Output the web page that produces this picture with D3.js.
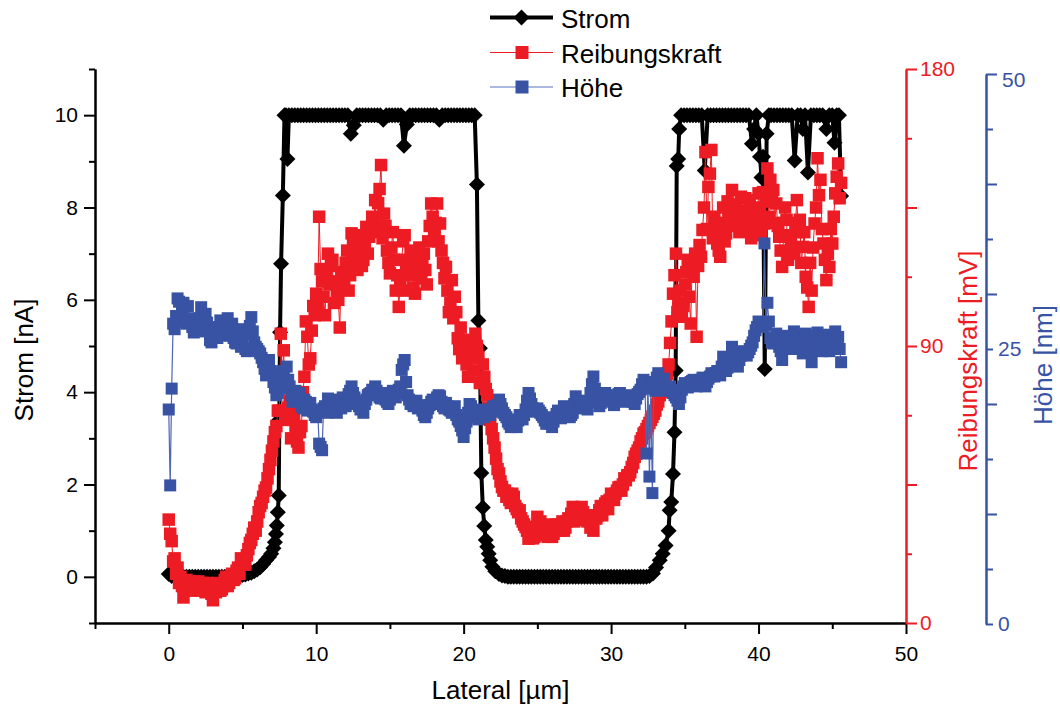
<!DOCTYPE html>
<html><head><meta charset="utf-8">
<script src="https://cdn.jsdelivr.net/npm/d3@7"></script>
<style>
html,body{margin:0;padding:0;background:#fff;}
svg{display:block;font-family:"Liberation Sans",Arial,Helvetica,sans-serif;}
</style></head><body>
<svg id="chart" width="1060" height="711"></svg>
<script>
// ---------------- DATA ----------------
// Lateral positions [µm] (main grid) shared by Reibungskraft and Höhe
const lateral = [
0,0.1,0.2,0.4,0.6,0.8,1,1.2,1.4,1.6,1.8,
2,2.2,2.4,2.6,2.8,3,3.2,3.4,3.6,3.8,
4,4.2,4.4,4.6,4.8,5,5.2,5.4,5.6,5.8,
6,6.2,6.4,6.6,6.8,7,7.2,7.4,7.6,7.8,
8,8.2,8.4,8.6,8.8,9,9.2,9.4,9.6,9.8,
10,10.2,10.4,10.6,10.8,11,11.2,11.4,11.6,11.8,
12,12.2,12.4,12.6,12.8,13,13.2,13.4,13.6,13.8,
14,14.2,14.4,14.6,14.8,15,15.2,15.4,15.6,15.8,
16,16.2,16.4,16.6,16.8,17,17.2,17.4,17.6,17.8,
18,18.2,18.4,18.6,18.8,19,19.2,19.4,19.6,19.8,
20,20.2,20.4,20.6,20.8,21,21.2,21.4,21.6,21.8,
22,22.2,22.4,22.6,22.8,23,23.2,23.4,23.6,23.8,
24,24.2,24.4,24.6,24.8,25,25.2,25.4,25.6,25.8,
26,26.2,26.4,26.6,26.8,27,27.2,27.4,27.6,27.8,
28,28.2,28.4,28.6,28.8,29,29.2,29.4,29.6,29.8,
30,30.2,30.4,30.6,30.8,31,31.2,31.4,31.6,31.8,
32,32.2,32.4,32.6,32.8,33,33.2,33.4,33.6,33.8,
34,34.2,34.4,34.6,34.8,35,35.2,35.4,35.6,35.8,
36,36.2,36.4,36.6,36.8,37,37.2,37.4,37.6,37.8,
38,38.2,38.4,38.6,38.8,39,39.2,39.4,39.6,39.8,
40,40.2,40.4,40.6,40.8,41,41.2,41.4,41.6,41.8,
42,42.2,42.4,42.6,42.8,43,43.2,43.4,43.6,43.8,
44,44.2,44.4,44.6,44.8,45,45.2,45.4,45.6
];
// Intermediate lateral positions [µm]
const lateralMid = [
0.3,0.5,0.7,0.9,1.1,1.3,1.5,1.7,1.9,
2.1,2.3,2.5,2.7,2.9,3.1,3.3,3.5,3.7,3.9,
4.1,4.3,4.5,4.7,4.9,5.1,5.3,5.5,5.7,5.9,
6.1,6.3,6.5,6.7,6.9,7.1,7.3,7.5,7.7,7.9,
8.1,8.3,8.5,8.7,8.9,9.1,9.3,9.5,9.7,9.9,
10.1,10.3,10.5,10.7,10.9,11.1,11.3,11.5,11.7,11.9,
12.1,12.3,12.5,12.7,12.9,13.1,13.3,13.5,13.7,13.9,
14.1,14.3,14.5,14.7,14.9,15.1,15.3,15.5,15.7,15.9,
16.1,16.3,16.5,16.7,16.9,17.1,17.3,17.5,17.7,17.9,
18.1,18.3,18.5,18.7,18.9,19.1,19.3,19.5,19.7,19.9,
20.1,20.3,20.5,20.7,20.9,21.1,21.3,21.5,21.7,21.9,
22.1,22.3,22.5,22.7,22.9,23.1,23.3,23.5,23.7,23.9,
24.1,24.3,24.5,24.7,24.9,25.1,25.3,25.5,25.7,25.9,
26.1,26.3,26.5,26.7,26.9,27.1,27.3,27.5,27.7,27.9,
28.1,28.3,28.5,28.7,28.9,29.1,29.3,29.5,29.7,29.9,
30.1,30.3,30.5,30.7,30.9,31.1,31.3,31.5,31.7,31.9,
32.1,32.3,32.5,32.7,32.9,33.1,33.3,33.5,33.7,33.9,
34.1,34.3,34.5,34.7,34.9,35.1,35.3,35.5,35.7,35.9,
36.1,36.3,36.5,36.7,36.9,37.1,37.3,37.5,37.7,37.9,
38.1,38.3,38.5,38.7,38.9,39.1,39.3,39.5,39.7,39.9,
40.1,40.3,40.5,40.7,40.9,41.1,41.3,41.5,41.7,41.9,
42.1,42.3,42.5,42.7,42.9,43.1,43.3,43.5,43.7,43.9,
44.1,44.3,44.5,44.7,44.9,45.1,45.3,45.5
];
// Reibungskraft [mV] at lateral
const reibungskraft = [
33.6,29,26.6,21,18,15,8.3,14,12.5,13,11.5,
13.5,10.5,12,13,11,7.4,10,12.5,11,14,
12,15,14,17,16,20,19,24,27,31,
33,38,41,44,50,56,62,69,94,88.6,
67,72,66,63,57,64,80,93,86,103,
107,132,111,100,120,116,104,108,96,112.5,
117,108,126.6,119,114.7,122,118,128.7,125.5,132,
137.4,136.4,148.8,133,121,113.6,127,108,102.7,118,
126,108,121,109,114.7,122,117,114.7,124,136.3,
126.6,136.3,129.8,117,115.7,101,111.4,106,92.5,96,
88,84,90.8,86,94,86.5,78,80,74,66,
60,53.4,48.6,44.2,43,42,39,41,37,36.6,
33,31.2,27.4,30,28,34.5,33,31,29,32,
28,30,31.2,32,30,33,33.4,37.7,36,34,
37.7,34.5,33,31,30,34,36.6,35,38.8,37,
42,40,43,44.2,45,46.4,48,50.7,54,56,
59,61.5,63,65,67,69,72,75,79,81,
91,107,120,104,99.5,110,118,97.3,112.5,93,
122.8,127.7,153,141.7,153.7,132,123.3,119,135,126.6,
132,140.7,134,130,138.5,133,127.7,137.4,131,132,
139.6,126,129.8,147.7,144,140.7,136.3,125.5,115.7,135,
118,124.4,120,137.4,131,122.2,112.5,102.7,108,129.8,
151,144,123.3,111.4,115.7,123.3,139.6,149.3,143
];
// Reibungskraft [mV] at lateralMid
const reibungskraftMid = [
20,16,13,12,11,12,10.5,13.5,12,
11,13,10,12.5,9.5,11.5,13,10.5,12,15,
13,16,14.5,18,21,19,22,26,29,30,
36,39,43,47,53,59,64,69,80,66,
70,60,68,59,62,75,98,84,95,100,
104,115,106,112,110,118,111,105,114,109,
121,113,123,117,126,116,123,120,127,130,
128,141,125,129,117,122,118,113,110,124,
117,113,119,107,118,112,120,110,129,132,
130,124,121,112,108,104,99,101,89,86,
92,80,88,82,90,78,84,76,70,63,
57,50,46,43,41,40,42,38,36,34,
32,30,29,27.5,31,30,28.5,30.5,28,30,
29,32,30,33,31,34,35.5,33,35,36.5,
36,33.5,35,32,34,35,38,37,39.5,40,
41,42,44,43,47,48,49,52,55,57,
60,62,64,66,68,71,74,77,80,84,
98,113,101,108,103,114,106,117,120,116,
119,135,128,146,125,128,121,130,124,137,
129,136,131,127,134,138,131,125,135,128,
134,140,137,132,137,130,129,121,126,131,
126,121,130,127,117,127,109,117,122,135,
139,128,118,120,128,132,145,138
];
// Höhe [nm] at lateral
const hoehe = [
19.5,12.6,21.4,26.8,29.6,27.5,29.2,27.3,27.8,27.0,26.8,
27.3,28.8,27.0,27.4,25.8,26.5,26.3,26.9,27.4,26.3,
27.8,26.7,26.0,25.5,26.2,25.8,25.0,26.4,27.9,25.6,
25.0,24.6,23.8,22.6,24.0,22.8,21.5,21.0,21.8,22.6,
23.4,21.6,20.2,21.2,20.7,19.8,20.4,19.4,20.1,19.3,
18.8,16.4,15.8,19.8,20.5,19.6,20.3,19.2,20.0,20.6,
19.8,20.9,21.6,20.6,20.2,19.5,19.2,20.4,20.9,21.3,
21.6,20.8,20.5,21.0,20.2,20.4,21.2,20.6,21.3,23.1,
24.0,20.8,20.0,19.8,20.3,19.9,19.4,18.8,19.6,20.2,
20.0,20.6,20.7,19.8,20.1,19.5,19.2,19.8,18.6,18.0,
17.0,18.4,20.0,19.4,19.0,18.6,19.5,18.8,19.4,19.0,
19.8,19.3,20.4,19.6,19.0,18.4,17.9,18.6,17.9,19.0,
18.6,19.5,21.0,20.0,19.3,19.6,19.2,18.8,18.2,18.6,
17.9,18.8,19.4,18.7,19.8,19.3,18.8,19.2,20.7,20.0,
19.6,20.2,19.5,21.0,22.5,20.6,19.8,20.4,21.0,20.3,
20.6,19.9,20.8,21.0,20.5,20.2,20.8,20.4,20.0,20.9,
21.3,22.2,15.5,13.4,11.9,21.2,22.8,21.8,22.3,21.2,
21.6,21.0,20.6,20.0,21.3,21.9,21.5,22.0,22.2,21.6,
22.0,22.4,21.6,22.3,22.8,22.5,23.0,22.6,24.3,23.0,
23.6,25.2,24.0,23.4,24.4,24.8,24.4,25.0,25.6,26.7,
27.5,27.3,34.6,29.2,26.0,25.5,26.4,25.2,24.0,25.8,
26.1,25.0,26.6,25.4,26.2,24.6,26.4,25.6,23.8,25.9,
26.5,25.2,25.5,26.3,24.8,25.8,26.6,26.1,23.8
];
// Höhe [nm] at lateralMid
const hoeheMid = [
27.3,28.0,29.3,28.4,27.6,28.9,27.4,26.5,27.6,
27.8,26.6,28.2,26.9,25.6,27.0,26.0,27.6,26.8,27.0,
26.2,27.3,25.6,26.8,25.2,26.4,24.8,27.1,26.6,25.2,
24.8,24.2,23.2,23.6,23.0,22.0,20.8,21.4,23.0,22.2,
22.2,20.8,20.6,20.3,21.0,19.6,20.2,19.9,19.5,19.0,
19.4,16.1,19.6,19.2,20.1,19.8,19.6,20.4,19.6,20.2,
20.4,21.2,21.0,20.0,19.8,19.6,20.0,20.8,21.0,21.0,
21.2,20.6,20.9,20.4,20.0,20.8,20.9,21.0,21.6,23.6,
22.0,20.4,20.2,20.0,19.6,19.8,19.0,19.2,19.9,20.4,
20.3,20.8,20.2,19.6,19.8,19.4,19.6,19.0,18.4,17.6,
17.8,19.2,19.8,19.0,18.8,19.1,19.2,19.0,19.2,19.5,
19.6,19.9,20.0,19.2,18.8,18.2,18.3,18.2,18.5,18.8,
19.0,20.3,20.5,19.6,19.4,19.4,19.0,18.5,18.4,18.2,
18.4,19.1,19.0,19.3,19.5,19.0,19.0,20.0,20.3,19.8,
19.9,19.8,20.3,21.8,21.4,20.2,20.1,20.7,20.6,20.5,
20.2,20.4,20.9,20.7,20.4,20.5,20.6,20.2,20.5,21.1,
21.8,21.6,22.0,21.4,22.0,22.4,22.0,21.6,21.5,21.4,
21.2,20.8,20.3,20.6,21.6,21.7,21.8,22.1,21.9,21.8,
22.2,22.0,22.0,22.5,22.6,22.8,22.8,23.4,23.6,23.3,
24.2,24.6,23.7,24.0,24.6,24.6,24.7,25.3,26.2,27.0,
27.4,27.0,27.2,27.5,25.6,26.0,25.8,24.8,25.4,26.2,
25.6,25.8,26.0,25.8,25.4,25.5,26.0,24.8,25.0,26.2,
25.8,24.8,26.0,25.5,25.2,26.2,25.7,25.0
];
// Strom [nA] with its own lateral positions [µm]
const stromX = [
0,0.2,0.4,0.6,0.8,1,1.2,1.4,1.6,1.8,
2,2.2,2.4,2.6,2.8,3,3.2,3.4,3.6,3.8,
4,4.2,4.4,4.6,4.8,5,5.2,5.4,5.6,5.8,
6,6.2,6.4,6.6,6.8,6.95,7.1,7.2,7.27,7.33,
7.4,7.46,7.5,7.55,7.62,7.74,7.85,7.95,8.05,8.15,
8.35,8.55,8.75,8.95,9.15,9.35,9.55,9.75,9.95,10.15,
10.35,10.55,10.75,10.95,11.15,11.35,11.55,11.75,11.95,12.15,
12.35,12.55,12.75,12.95,13.15,13.35,13.55,13.75,13.95,14.15,
14.35,14.55,14.75,14.95,15.15,15.35,15.55,15.75,15.95,16.15,
16.35,16.55,16.75,16.95,17.15,17.35,17.55,17.75,17.95,18.15,
18.35,18.55,18.75,18.95,19.15,19.35,19.55,19.75,19.95,20.15,
20.35,20.55,20.75,
20.9,21,21.1,21.2,21.3,21.4,21.5,21.6,21.7,21.8,21.95,22.15,22.4,22.6,22.8,
23,23.2,23.4,23.6,23.8,24,24.2,24.4,24.6,24.8,
25,25.2,25.4,25.6,25.8,26,26.2,26.4,26.6,26.8,
27,27.2,27.4,27.6,27.8,28,28.2,28.4,28.6,28.8,
29,29.2,29.4,29.6,29.8,30,30.2,30.4,30.6,30.8,
31,31.2,31.4,31.6,31.8,32,32.2,32.4,
32.6,32.84,33.05,33.3,33.5,33.7,33.9,33.97,34.08,34.2,34.3,34.38,34.45,34.55,34.62,
34.75,34.95,35.15,35.35,35.55,35.75,35.95,36.15,36.35,36.55,
36.75,36.95,37.15,37.35,37.55,37.75,37.95,38.15,38.35,38.55,
38.75,38.95,39.15,39.35,39.55,39.7,39.85,40,40.1,40.2,
40.3,40.42,40.55,40.7,40.85,41.05,41.25,41.45,41.65,41.85,
42.05,42.25,42.45,42.65,42.85,43,43.15,43.35,43.55,43.75,
43.95,44.15,44.35,44.6,44.8,45,45.15,45.3,45.45,45.6
];
const stromY = [
0.06,0.02,0,0,0,0,0,0,0,0,
0,0,0,0,0,0,0,0,0,0,
0,0,0.01,0.02,0.03,0.04,0.05,0.07,0.09,0.12,
0.16,0.21,0.28,0.36,0.43,0.5,0.62,0.75,0.93,1.11,
1.4,1.76,3.4,5.3,6.78,8.26,10,10,9.05,10,
10,10,10,10,10,10,10,10,10,10,
10,10,10,10,10,10,10,10,10,10,
9.6,9.78,10,10,10,10,10,10,10,10,
10,9.9,10,10,10,10,10,10,9.34,9.8,
10,10,10,10,10,10,10,10,10,10,
9.9,10,10,10,10,10,10,10,10,10,
10,10,10,
8.5,5.55,4.95,2.25,1.5,1.1,0.8,0.65,0.5,0.36,0.22,0.12,0.06,0.03,0.02,
0,0,0,0,0,0,0,0,0,0,
0,0,0,0,0,0,0,0,0,0,
0,0,0,0,0,0,0,0,0,0,
0,0,0,0,0,0,0,0,0,0,
0,0,0,0,0,0,0,0,
0.02,0.07,0.2,0.36,0.5,0.68,1.0,1.44,1.62,2.23,3.13,4.47,8.9,9.05,9.7,
10,10,10,10,10,10,10,10,8.8,10,
10,10,10,10,10,10,10,10,10,10,
10,10,10,10,9.38,9.7,10,9.6,9.1,8.65,
9.1,4.5,9.6,10,10,10,10,10,10,10,
10,10,9.02,10,10,9.7,10,8.76,10,10,
10,10,10,9.7,10,10,9.4,10,10,8.25
];
// Tick values
const xMajor = [0,10,20,30,40,50];
const xMinor = [-5,5,15,25,35,45];
const stromMajor = [0,2,4,6,8,10];
const stromMinor = [-1,1,3,5,7,9,11];
const reibMajor = [0,45,90,135,180];
const reibMinor = [22.5,67.5,112.5,157.5];
const reibLabels = [0,90,180];
const hoeheMajor = [10,20,30,40,50];
const hoeheMinor = [0,5,15,25,35,45];
const hoeheLabels = [0,25,50];

// ---------------- CHART ----------------
const RED = "#ED1C24", BLUE = "#3953A4";
const svg = d3.select("#chart");
const x = d3.scaleLinear().domain([-5,50]).range([95,906]);
const yS = d3.scaleLinear().domain([-1,11]).range([623,69]);
const yR = d3.scaleLinear().domain([0,180]).range([623,69]);
const yH = d3.scaleLinear().domain([0,50]).range([624,74]);

function style(g, color, fs){
  g.attr("font-family", null).attr("font-size", null);
  g.select(".domain").attr("stroke", color).attr("stroke-width", 2);
  g.selectAll(".tick line").attr("stroke", color).attr("stroke-width", 2);
  g.selectAll(".tick text").attr("fill", color).style("font-size", (fs||21)+"px");
  return g;
}
// bottom
style(svg.append("g").attr("transform","translate(0,623)")
  .call(d3.axisBottom(x).tickValues(xMinor).tickSize(6).tickSizeOuter(0).tickFormat("")), "#000");
style(svg.append("g").attr("transform","translate(0,623)")
  .call(d3.axisBottom(x).tickValues(xMajor).tickSize(11).tickSizeOuter(0).tickPadding(12).tickFormat(d3.format("d"))), "#000");
// left
style(svg.append("g").attr("transform","translate(95,0)")
  .call(d3.axisLeft(yS).tickValues(stromMinor).tickSize(6).tickSizeOuter(0).tickFormat("")), "#000");
style(svg.append("g").attr("transform","translate(95,0)")
  .call(d3.axisLeft(yS).tickValues(stromMajor).tickSize(11).tickSizeOuter(0).tickPadding(6).tickFormat(d3.format("d"))), "#000");
// red right
style(svg.append("g").attr("transform","translate(906,0)")
  .call(d3.axisRight(yR).tickValues(reibMinor).tickSize(6).tickSizeOuter(0).tickFormat("")), RED);
style(svg.append("g").attr("transform","translate(906,0)")
  .call(d3.axisRight(yR).tickValues(reibMajor).tickSize(11).tickSizeOuter(0).tickPadding(3)
    .tickFormat(d => reibLabels.includes(d) ? d : "")), RED);
// blue right
style(svg.append("g").attr("transform","translate(986,0)")
  .call(d3.axisRight(yH).tickValues(hoeheMinor).tickSize(7).tickSizeOuter(0).tickPadding(5)
    .tickFormat(d => hoeheLabels.includes(d) ? d : "")), BLUE);
const gH = style(svg.append("g").attr("transform","translate(986,0)")
  .call(d3.axisRight(yH).tickValues(hoeheMajor).tickSize(11).tickSizeOuter(0).tickPadding(5)
    .tickFormat(d => hoeheLabels.includes(d) ? d : "")), BLUE);
gH.selectAll(".tick text").filter(d => d === 50).attr("transform","translate(0,6)");

// titles
svg.append("text").attr("transform","translate(33,360) rotate(-90)").attr("text-anchor","middle")
  .style("font-size","26px").attr("fill","#000").text("Strom [nA]");
svg.append("text").attr("transform","translate(977,361) rotate(-90)").attr("text-anchor","middle")
  .style("font-size","26px").attr("fill",RED).text("Reibungskraft [mV]");
svg.append("text").attr("transform","translate(1052,365) rotate(-90)").attr("text-anchor","middle")
  .style("font-size","26px").attr("fill",BLUE).text("Höhe [nm]");
svg.append("text").attr("x",500.5).attr("y",699).attr("text-anchor","middle")
  .style("font-size","26px").attr("fill","#000").text("Lateral [µm]");

// data tables
const byX = (a,b) => a[0]-b[0];
const stromData = d3.zip(stromX, stromY);
const reibData = d3.zip(lateral, reibungskraft).concat(d3.zip(lateralMid, reibungskraftMid)).sort(byX);
const hoeheData = d3.zip(lateral, hoehe).concat(d3.zip(lateralMid, hoeheMid)).sort(byX);
const diamond = "M0,-8L8,0L0,8L-8,0Z";

const plot = svg.append("g");
// Strom
plot.append("path").datum(stromData)
  .attr("d", d3.line().x(d => x(d[0])).y(d => yS(d[1])))
  .attr("fill","none").attr("stroke","#000").attr("stroke-width",4).attr("stroke-linejoin","round");
plot.append("g").selectAll("path").data(stromData).join("path")
  .attr("d", diamond).attr("transform", d => `translate(${x(d[0])},${yS(d[1])})`).attr("fill","#000");
// Reibungskraft
plot.append("path").datum(reibData)
  .attr("d", d3.line().x(d => x(d[0])).y(d => yR(d[1])))
  .attr("fill","none").attr("stroke",RED).attr("stroke-width",1);
plot.append("g").selectAll("rect").data(reibData).join("rect")
  .attr("x", d => x(d[0]) - 6.25).attr("y", d => yR(d[1]) - 6.25).attr("width",12.5).attr("height",12.5).attr("fill",RED);
// Höhe
plot.append("path").datum(hoeheData)
  .attr("d", d3.line().x(d => x(d[0])).y(d => yH(d[1])))
  .attr("fill","none").attr("stroke","#4d66b3").attr("stroke-width",1.2);
plot.append("g").selectAll("rect").data(hoeheData).join("rect")
  .attr("x", d => x(d[0]) - 6).attr("y", d => yH(d[1]) - 6).attr("width",12).attr("height",12).attr("fill",BLUE);

// legend
const leg = svg.append("g");
const rows = [
  {name:"Strom", y:17.5, line:"#000", lw:4, mark:"diamond", color:"#000"},
  {name:"Reibungskraft", y:52.5, line:RED, lw:1, mark:"square", color:RED},
  {name:"Höhe", y:87, line:"#8e9fd3", lw:1.5, mark:"square", color:BLUE}
];
rows.forEach(r => {
  leg.append("line").attr("x1",490).attr("x2",553).attr("y1",r.y).attr("y2",r.y)
    .attr("stroke",r.line).attr("stroke-width",r.lw);
  if (r.mark === "diamond") {
    leg.append("path").attr("d","M0,-8L8,0L0,8L-8,0Z").attr("transform",`translate(521.5,${r.y})`).attr("fill",r.color);
  } else {
    leg.append("rect").attr("x",515.5).attr("y",r.y-6.5).attr("width",13).attr("height",13).attr("fill",r.color);
  }
  leg.append("text").attr("x",561).attr("y",r.y+10).style("font-size","26px").attr("fill","#000").text(r.name);
});
</script>
</body></html>
